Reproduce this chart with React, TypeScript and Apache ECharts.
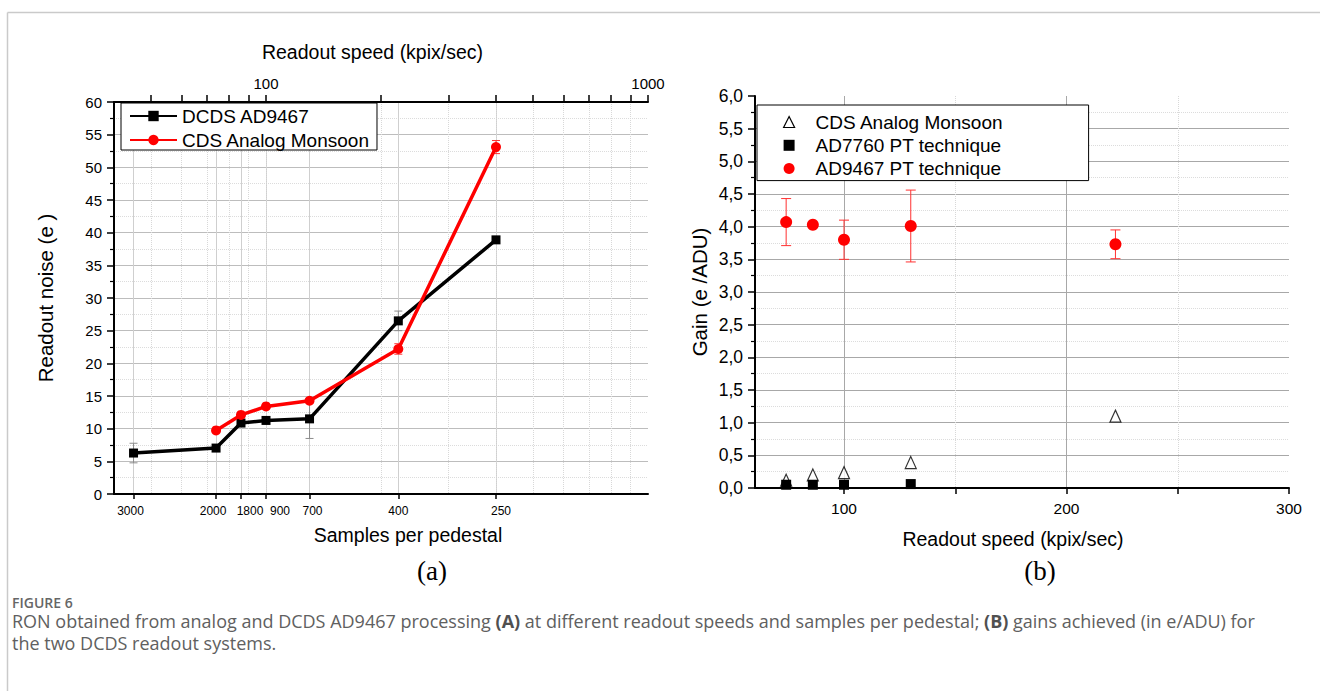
import React, { useEffect, useRef } from 'react';
import * as echarts from 'echarts';

// ---------- Panel (a) ----------
// readout speed (kpix/sec) at which each "samples per pedestal" tick sits
const readoutSpeeds = [45, 74, 86, 100, 130, 222, 400];
const sampleLabels = ['3000', '2000', '1800', '900', '700', '400', '250'];
const dcdsNoise = [6.27, 7.03, 10.86, 11.26, 11.5, 26.5, 38.9];
const dcdsNoiseErr = [1.5, 0.4, 0.5, 0.5, 3.0, 1.5, 0.5];
const analogSpeeds = [74, 86, 100, 130, 222, 400];
const analogNoise = [9.73, 12.1, 13.4, 14.27, 22.2, 53.1];
const analogNoiseErr = [0.3, 0.4, 0.3, 0.3, 0.8, 1.0];
const topTicks = [50, 60, 70, 80, 90, 100, 200, 300, 400, 500, 600, 700, 800, 900, 1000];
const topLabels = [100, 1000];

// ---------- Panel (b) ----------
const cdsSpeeds = [74, 86, 100, 130, 222];
const cdsGain = [0.12, 0.2, 0.235, 0.39, 1.1];
const ad7760Speeds = [74, 86, 100, 130];
const ad7760Gain = [0.05, 0.05, 0.05, 0.06];
const ad9467Speeds = [74, 86, 100, 130, 222];
const ad9467Gain = [4.07, 4.03, 3.8, 4.01, 3.73];
const ad9467Err = [0.36, 0.03, 0.3, 0.55, 0.22];
const bMajorTicks = [100, 200, 300];
const bMinorTicks = [150, 250];

const FONT = 'Arial, "Liberation Sans", sans-serif';
const CAPFONT = '"Open Sans", sans-serif';
const lg = (v: number) => Math.log10(v);

// small label nudges so the crowded bottom tick labels sit as in the original
const labelStyleKey = ['l3', 'l3', 'r9', 'r14', 'r3', 'c', 'r5'];

const errRender = (color: string, cap: number) => (params: any, api: any) => {
  const x = api.value(0);
  const p1 = api.coord([x, api.value(1)]);
  const p2 = api.coord([x, api.value(2)]);
  const style = { stroke: color, lineWidth: 1 };
  return {
    type: 'group',
    children: [
      { type: 'line', shape: { x1: p1[0], y1: p1[1], x2: p2[0], y2: p2[1] }, style },
      { type: 'line', shape: { x1: p1[0] - cap, y1: p1[1], x2: p1[0] + cap, y2: p1[1] }, style },
      { type: 'line', shape: { x1: p2[0] - cap, y1: p2[1], x2: p2[0] + cap, y2: p2[1] }, style },
    ],
  };
};

export default function App() {
  const ref = useRef<HTMLDivElement>(null);

  useEffect(() => {
    if (!ref.current) return;
    const chart = echarts.init(ref.current, undefined, { renderer: 'svg' });

    const xMinA = lg(40);
    const xMaxA = 3;
    const speedLogs = readoutSpeeds.map(lg);
    const lblBase = { fontSize: 12, color: '#000', fontFamily: FONT };

    const option: any = {
      animation: false,
      backgroundColor: '#fff',
      textStyle: { fontFamily: FONT },
      grid: [
        { left: 114, top: 102, width: 534, height: 392, outerBoundsMode: 'none' },
        { left: 755, top: 96, width: 534, height: 392, outerBoundsMode: 'none' },
      ],
      xAxis: [
        {
          gridIndex: 0, type: 'value', position: 'bottom', min: xMinA, max: xMaxA,
          axisLine: { show: true, onZero: false, lineStyle: { color: '#000', width: 2 } },
          axisTick: { show: true, inside: false, length: 5, customValues: speedLogs, lineStyle: { color: '#000', width: 1.5 } },
          axisLabel: {
            customValues: speedLogs, fontSize: 12, color: '#000', margin: 11, fontFamily: FONT,
            formatter: (v: number) => {
              const i = speedLogs.findIndex((s) => Math.abs(s - v) < 1e-9);
              return i >= 0 ? `{${labelStyleKey[i]}|${sampleLabels[i]}}` : '';
            },
            rich: {
              c: { ...lblBase },
              l3: { ...lblBase, padding: [0, 6, 0, 0] },
              r3: { ...lblBase, padding: [0, 0, 0, 6] },
              r5: { ...lblBase, padding: [0, 0, 0, 10] },
              r9: { ...lblBase, padding: [0, 0, 0, 18] },
              r14: { ...lblBase, padding: [0, 0, 0, 28] },
            },
          },
          splitLine: { show: true, showMinLine: true, showMaxLine: true, lineStyle: { color: '#cfcfcf', width: 1 } },
          name: 'Samples per pedestal', nameLocation: 'middle', nameGap: 31, nameMoveOverlap: false,
          nameTextStyle: { fontSize: 19.5, color: '#000', fontFamily: FONT, padding: [0, 0, 0, 54] },
        },
        {
          gridIndex: 0, type: 'value', position: 'top', min: xMinA, max: xMaxA,
          axisLine: { show: true, onZero: false, lineStyle: { color: '#000', width: 2 } },
          axisTick: { show: true, inside: false, length: 7, customValues: topTicks.map(lg), lineStyle: { color: '#000', width: 1.5 } },
          axisLabel: {
            customValues: topLabels.map(lg), fontSize: 15, color: '#000', margin: 11, fontFamily: FONT,
            formatter: (v: number) => String(Math.round(Math.pow(10, v))),
          },
          splitLine: { show: true, showMinLine: true, showMaxLine: false, lineStyle: { color: '#d8d8d8', width: 1, type: 'dotted' } },
          name: 'Readout speed (kpix/sec)', nameLocation: 'middle', nameGap: 40, nameMoveOverlap: false,
          nameTextStyle: { fontSize: 19.5, color: '#000', fontFamily: FONT, padding: [0, 17, 0, 0] },
        },
        {
          gridIndex: 1, type: 'value', position: 'bottom', min: 60, max: 300,
          axisLine: { show: true, onZero: false, lineStyle: { color: '#000', width: 2 } },
          axisTick: { show: true, inside: false, length: 6, customValues: bMajorTicks, lineStyle: { color: '#000', width: 1.5 } },
          axisLabel: { customValues: bMajorTicks, fontSize: 15.5, color: '#000', margin: 12, fontFamily: FONT },
          splitLine: { show: true, showMinLine: true, showMaxLine: false, lineStyle: { color: '#a8a8a8', width: 1 } },
          name: 'Readout speed (kpix/sec)', nameLocation: 'middle', nameGap: 41, nameMoveOverlap: false,
          nameTextStyle: { fontSize: 19.5, color: '#000', fontFamily: FONT, padding: [0, 18, 0, 0] },
        },
        {
          gridIndex: 1, type: 'value', position: 'bottom', min: 60, max: 300,
          axisLine: { show: false, onZero: false },
          axisTick: { show: true, inside: false, length: 6, customValues: bMinorTicks, lineStyle: { color: '#000', width: 1.5 } },
          axisLabel: { show: false },
          splitLine: { show: true, showMinLine: true, showMaxLine: true, lineStyle: { color: '#d8d8d8', width: 1, type: 'dotted' } },
        },
      ],
      yAxis: [
        {
          gridIndex: 0, type: 'value', min: 0, max: 60, interval: 5,
          axisLine: { show: true, onZero: false, lineStyle: { color: '#000', width: 2 } },
          axisTick: { show: true, inside: false, length: 7, lineStyle: { color: '#000', width: 1.5 } },
          minorTick: { show: true, splitNumber: 2, length: 4, lineStyle: { color: '#000', width: 1.2 } },
          axisLabel: { fontSize: 15, color: '#000', margin: 12, fontFamily: FONT },
          splitLine: { show: true, showMinLine: false, showMaxLine: false, lineStyle: { color: '#bdbdbd', width: 1 } },
          minorSplitLine: { show: true, lineStyle: { color: '#dcdcdc', width: 1, type: 'dotted' } },
          name: 'Readout noise (e )', nameLocation: 'middle', nameGap: 58, nameRotate: 90, nameMoveOverlap: false,
          nameTextStyle: { fontSize: 20.5, color: '#000', fontFamily: FONT },
        },
        {
          gridIndex: 1, type: 'value', min: 0, max: 6, interval: 0.5,
          axisLine: { show: true, onZero: false, lineStyle: { color: '#000', width: 2 } },
          axisTick: { show: true, inside: false, length: 7, lineStyle: { color: '#000', width: 1.5 } },
          minorTick: { show: true, splitNumber: 2, length: 4, lineStyle: { color: '#000', width: 1.2 } },
          axisLabel: {
            fontSize: 17.5, color: '#000', margin: 12, fontFamily: FONT,
            formatter: (v: number) => v.toFixed(1).replace('.', ','),
          },
          splitLine: { show: true, showMinLine: false, showMaxLine: false, lineStyle: { color: '#a8a8a8', width: 1 } },
          minorSplitLine: { show: true, lineStyle: { color: '#dcdcdc', width: 1, type: 'dotted' } },
          name: 'Gain (e /ADU)', nameLocation: 'middle', nameGap: 45, nameRotate: 90, nameMoveOverlap: false,
          nameTextStyle: { fontSize: 20.5, color: '#000', fontFamily: FONT },
        },
      ],
      legend: [
        {
          left: 121, top: 103, orient: 'vertical',
          data: ['DCDS AD9467', 'CDS Analog Monsoon'],
          itemWidth: 47, itemHeight: 13, itemGap: 4, padding: [3, 7, 0, 8],
          backgroundColor: '#fff', borderColor: '#000', borderWidth: 1, borderRadius: 0,
          textStyle: { fontSize: 19, color: '#000', fontFamily: FONT, lineHeight: 20 },
          selectedMode: false, z: 10,
        },
        {
          left: 757, top: 105, orient: 'vertical',
          data: [
            { name: 'CDS Analog Monsoon', icon: 'triangle', itemStyle: { color: '#fff', borderColor: '#000', borderWidth: 1.2 } },
            { name: 'AD7760 PT technique', icon: 'rect' },
            { name: 'AD9467 PT technique', icon: 'circle' },
          ],
          itemWidth: 11, itemHeight: 11, itemGap: 3.3, padding: [7, 85, 2, 26],
          formatter: (name: string) => `{g|}${name}`,
          backgroundColor: '#fff', borderColor: '#000', borderWidth: 1, borderRadius: 0,
          textStyle: {
            fontSize: 19, color: '#000', fontFamily: FONT, lineHeight: 20,
            rich: { g: { width: 16, fontSize: 19, lineHeight: 20 } },
          },
          selectedMode: false, z: 10,
        },
      ],
      series: [
        {
          name: 'DCDS AD9467', type: 'line', xAxisIndex: 0, yAxisIndex: 0,
          data: readoutSpeeds.map((s, i) => [lg(s), dcdsNoise[i]]),
          color: '#000', lineStyle: { color: '#000', width: 3.5 },
          symbol: 'rect', symbolSize: 9, itemStyle: { color: '#000' }, z: 3,
        },
        {
          name: 'CDS Analog Monsoon', type: 'line', xAxisIndex: 0, yAxisIndex: 0,
          data: analogSpeeds.map((s, i) => [lg(s), analogNoise[i]]),
          color: '#ff0000', lineStyle: { color: '#ff0000', width: 3.5 },
          symbol: 'circle', symbolSize: 10, itemStyle: { color: '#ff0000' }, z: 4,
        },
        {
          type: 'custom', xAxisIndex: 0, yAxisIndex: 0, z: 2,
          renderItem: errRender('#8c8c8c', 4),
          encode: { x: 0, y: [1, 2] },
          data: readoutSpeeds.map((s, i) => [lg(s), dcdsNoise[i] - dcdsNoiseErr[i], dcdsNoise[i] + dcdsNoiseErr[i]]),
        },
        {
          type: 'custom', xAxisIndex: 0, yAxisIndex: 0, z: 2,
          renderItem: errRender('#ff3030', 4),
          encode: { x: 0, y: [1, 2] },
          data: analogSpeeds.map((s, i) => [lg(s), analogNoise[i] - analogNoiseErr[i], analogNoise[i] + analogNoiseErr[i]]),
        },
        {
          type: 'custom', xAxisIndex: 2, yAxisIndex: 1, z: 2,
          renderItem: errRender('#ff3030', 5),
          encode: { x: 0, y: [1, 2] },
          data: ad9467Speeds.map((s, i) => [s, ad9467Gain[i] - ad9467Err[i], ad9467Gain[i] + ad9467Err[i]]),
        },
        {
          name: 'CDS Analog Monsoon', type: 'scatter', xAxisIndex: 2, yAxisIndex: 1,
          data: cdsSpeeds.map((s, i) => [s, cdsGain[i]]),
          symbol: 'triangle', symbolSize: [11, 12],
          itemStyle: { color: '#fff', borderColor: '#000', borderWidth: 1.2 }, z: 3,
        },
        {
          name: 'AD7760 PT technique', type: 'scatter', xAxisIndex: 2, yAxisIndex: 1,
          data: ad7760Speeds.map((s, i) => [s, ad7760Gain[i]]),
          symbol: 'rect', symbolSize: 10, itemStyle: { color: '#000', opacity: 1 }, z: 4,
        },
        {
          name: 'AD9467 PT technique', type: 'scatter', xAxisIndex: 2, yAxisIndex: 1,
          data: ad9467Speeds.map((s, i) => [s, ad9467Gain[i]]),
          symbol: 'circle', symbolSize: 12, itemStyle: { color: '#ff0000', opacity: 1 }, z: 4,
        },
      ],
      graphic: [
        { type: 'line', silent: true, shape: { x1: 7.5, y1: 12.5, x2: 1320, y2: 12.5 }, style: { stroke: '#cacaca', lineWidth: 1.5 } },
        { type: 'line', silent: true, shape: { x1: 7.5, y1: 12.5, x2: 7.5, y2: 691 }, style: { stroke: '#cacaca', lineWidth: 1.5 } },
        {
          type: 'text', silent: true, x: 432, y: 571,
          style: { text: '(a)', fontSize: 27, fontFamily: '"Liberation Serif", "Times New Roman", serif', fill: '#000', align: 'center', verticalAlign: 'middle' },
        },
        {
          type: 'text', silent: true, x: 1040, y: 571,
          style: { text: '(b)', fontSize: 27, fontFamily: '"Liberation Serif", "Times New Roman", serif', fill: '#000', align: 'center', verticalAlign: 'middle' },
        },
        {
          type: 'text', silent: true, x: 12, y: 602,
          style: { text: 'FIGURE 6', fontSize: 14, fontWeight: 600, fontFamily: CAPFONT, fill: '#666', align: 'left', verticalAlign: 'middle' },
        },
        {
          type: 'text', silent: true, x: 12, y: 610,
          style: {
            text: 'RON obtained from analog and DCDS AD9467 processing {b|(A)} at different readout speeds and samples per pedestal; {b|(B)} gains achieved (in e/ADU) for\nthe two DCDS readout systems.',
            fontSize: 18, fontFamily: CAPFONT, fill: '#606060', lineHeight: 22,
            align: 'left', verticalAlign: 'top',
            rich: { b: { fontSize: 18, fontWeight: 'bold', fontFamily: CAPFONT, fill: '#505050', lineHeight: 22 } },
          },
        },
      ],
    };

    chart.setOption(option);
    return () => chart.dispose();
  }, []);

  return <div ref={ref} style={{ position: 'absolute', left: 0, top: 0, width: 1320, height: 691 }} />;
}
